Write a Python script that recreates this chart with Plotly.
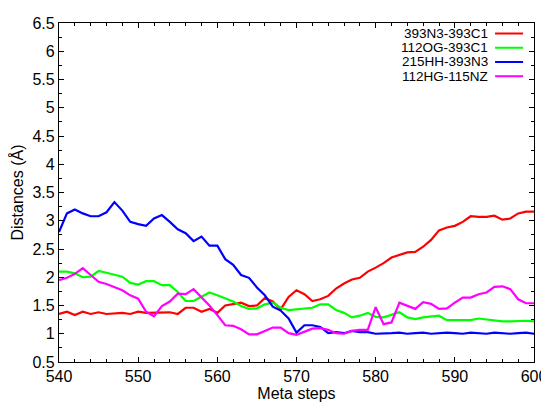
import plotly.graph_objects as go

steps = list(range(540, 601))

red_393N3_393C1 = [1.35, 1.39, 1.33, 1.39, 1.35, 1.38, 1.35, 1.36, 1.37, 1.35,
                   1.39, 1.37, 1.37, 1.38, 1.38, 1.35, 1.46, 1.46, 1.39, 1.44,
                   1.37, 1.50, 1.52, 1.55, 1.49, 1.50, 1.63, 1.57, 1.43, 1.65,
                   1.77, 1.70, 1.58, 1.61, 1.67, 1.80, 1.89, 1.96, 1.99, 2.10,
                   2.17, 2.25, 2.35, 2.39, 2.44, 2.45, 2.54, 2.66, 2.83, 2.88,
                   2.91, 2.98, 3.08, 3.07, 3.07, 3.09, 3.02, 3.04, 3.13, 3.16,
                   3.16]

green_112OG_393C1 = [2.10, 2.10, 2.07, 2.00, 2.01, 2.11, 2.08, 2.05, 2.01, 1.90,
                     1.87, 1.93, 1.93, 1.86, 1.86, 1.74, 1.58, 1.58, 1.65, 1.73,
                     1.68, 1.63, 1.57, 1.49, 1.44, 1.45, 1.52, 1.55, 1.46, 1.42,
                     1.43, 1.45, 1.46, 1.52, 1.52, 1.42, 1.37, 1.29, 1.32, 1.37,
                     1.30, 1.29, 1.34, 1.38, 1.29, 1.26, 1.29, 1.31, 1.32, 1.24,
                     1.24, 1.24, 1.24, 1.27, 1.25, 1.24, 1.22, 1.22, 1.23, 1.23,
                     1.22]

blue_215HH_393N3 = [2.80, 3.13, 3.20, 3.13, 3.08, 3.08, 3.15, 3.33, 3.18, 2.98,
                    2.94, 2.91, 3.04, 3.10, 2.98, 2.85, 2.78, 2.64, 2.72, 2.56,
                    2.56, 2.32, 2.22, 2.04, 1.99, 1.82, 1.68, 1.48, 1.41, 1.27,
                    1.02, 1.15, 1.15, 1.12, 1.01, 1.03, 1.01, 1.05, 1.03, 1.03,
                    1.00, 1.00, 1.01, 1.02, 1.00, 1.01, 1.02, 1.00, 1.01, 1.02,
                    1.01, 1.00, 1.02, 1.01, 1.00, 1.02, 1.01, 1.00, 1.01, 1.02,
                    1.00]

magenta_112HG_115NZ = [1.95, 1.99, 2.06, 2.16, 2.04, 1.92, 1.88, 1.83, 1.77, 1.68,
                       1.62, 1.39, 1.31, 1.49, 1.57, 1.71, 1.70, 1.79, 1.65, 1.50,
                       1.33, 1.15, 1.14, 1.08, 0.99, 0.99, 1.05, 1.11, 1.11, 1.01,
                       0.98, 1.04, 1.09, 1.10, 1.07, 1.01, 1.00, 1.05, 1.07, 1.07,
                       1.47, 1.17, 1.20, 1.55, 1.50, 1.44, 1.56, 1.53, 1.44, 1.45,
                       1.55, 1.64, 1.64, 1.70, 1.73, 1.83, 1.84, 1.79, 1.61, 1.54,
                       1.54]

series_names = ["393N3-393C1", "112OG-393C1", "215HH-393N3", "112HG-115NZ"]
series_values = [red_393N3_393C1, green_112OG_393C1, blue_215HH_393N3, magenta_112HG_115NZ]
series_colors = ["#ff0000", "#00ff00", "#0000ff", "#ff00ff"]

x_ticks = [540, 550, 560, 570, 580, 590, 600]
y_ticks = [0.5, 1, 1.5, 2, 2.5, 3, 3.5, 4, 4.5, 5, 5.5, 6, 6.5]

FONT = "Liberation Sans, Arial, Helvetica, sans-serif"

fig = go.Figure()
for name, vals, col in zip(series_names, series_values, series_colors):
    fig.add_trace(go.Scatter(x=steps, y=vals, mode="lines", name=name,
                             line=dict(color=col, width=2.2), showlegend=False))

# custom legend (text right, sample line to the right of text)
leg_y = [0.969, 0.927, 0.885, 0.843]
for name, col, yy in zip(series_names, series_colors, leg_y):
    fig.add_annotation(x=0.905, y=yy, xref="paper", yref="paper", text=name,
                       showarrow=False, xanchor="right", yanchor="middle",
                       font=dict(family=FONT, size=13.5, color="black"),
                       borderpad=0)
    fig.add_shape(type="line", xref="paper", yref="paper",
                  x0=0.918, x1=0.977, y0=yy, y1=yy,
                  line=dict(color=col, width=2))

axis_common = dict(
    showline=True, linecolor="black", linewidth=1.3, mirror="allticks",
    ticks="inside", ticklen=5, tickcolor="black", tickwidth=1,
    showgrid=False, zeroline=False, automargin=False,
    tickfont=dict(family=FONT, size=16, color="black"),
)

fig.update_xaxes(range=[540, 600], tickvals=x_ticks,
                 title=dict(text="Meta steps", font=dict(family=FONT, size=16, color="black"), standoff=3),
                 minor=dict(dtick=2, ticks="inside", ticklen=3, tickcolor="black"),
                 **axis_common)
fig.update_yaxes(range=[0.5, 6.5], tickvals=y_ticks,
                 ticktext=[("%g" % v) for v in y_ticks],
                 title=dict(text="Distances (Å)", font=dict(family=FONT, size=16, color="black"), standoff=4),
                 minor=dict(dtick=0.25, tick0=0.5, ticks="inside", ticklen=3, tickcolor="black"),
                 **axis_common)

# page body adds an 8px offset; size/margins compensate so the plot area lands where the reference has it
fig.update_layout(
    width=541, height=397,
    margin=dict(l=51, r=15, t=15, b=43),
    plot_bgcolor="white", paper_bgcolor="white",
    font=dict(family=FONT, color="black"),
)

fig.write_html("out.html")
